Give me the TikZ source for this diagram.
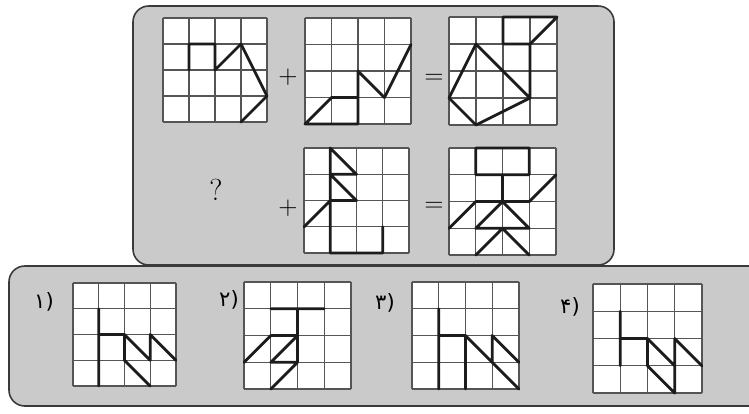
\documentclass[tikz,border=0pt]{standalone}
\usepackage{fontspec}
\newfontfamily\farsifont{DejaVu Sans}
\definecolor{panelfill}{HTML}{CACACA}
\definecolor{paneldraw}{HTML}{3A3A3A}
\definecolor{gridgray}{HTML}{555555}
\definecolor{inkline}{HTML}{1C1C1C}
\tikzset{
  panel/.style={rounded corners=9pt, draw=paneldraw, line width=0.9pt, fill=panelfill},
  gridline/.style={draw=gridgray, line width=0.75pt},
  inkpath/.style={draw=inkline, line width=1.6pt, line cap=round, line join=round},
  sign/.style={font=\Large, inner sep=0pt},
  optlabel/.style={font=\farsifont\large, inner sep=0pt}
}
% x, y of lower left corner (px), cell size (cm), thick lines
\newcommand{\puzzlegrid}[4]{%
  \begin{scope}[shift={(#1,#2)}, x=#3cm, y=#3cm]
    \fill[white] (0,0) rectangle (4,4);
    \foreach \k in {0,...,4} {
      \draw[gridline] (\k,0) -- (\k,4);
      \draw[gridline] (0,\k) -- (4,\k);
    }
    \draw[inkpath] #4;
  \end{scope}}

\begin{document}
\begin{tikzpicture}[x=0.02cm, y=-0.02cm]
\clip (0,0) rectangle (749,413);
\fill[white] (0,0) rectangle (749,413);

\draw[panel] (9,266) rectangle (790,406);
\draw[panel] (133,6) rectangle (614,265);

% first row: A + B = C
\puzzlegrid{163}{122}{0.52}{(1,2) -- (1,3) -- (2,3) -- (2,2) -- (3,3) -- (4,1) -- (3,0)}
\puzzlegrid{305}{124}{0.53}{(2,1) -- (1,1) -- (0,0) -- (2,0) -- (2,2) -- (3,1) -- (4,3)}
\puzzlegrid{449}{125}{0.54}{(2,3) -- (2,4) -- (4,4) -- (3,3) -- (2,3) (3,3) -- (3,1)
  (1,3) -- (0,1) -- (1,0) -- (3,1) -- cycle}

% second row: ? + D = E
\puzzlegrid{304}{253}{0.525}{(1,3) -- (2,3) -- (1,4) -- (1,0) -- (3,0) -- (3,1)
  (1,3) -- (2,2) -- (1,2) -- (0,1)}
\puzzlegrid{449}{255}{0.535}{(1,3) rectangle (3,4) (2,3) -- (2,2) (1,2) -- (3,2) -- (4,3)
  (0,1) -- (1,2) (1,1) -- (2,2) -- (3,1) (1,1) -- (3,1) (1,0) -- (2,1) -- (3,0)}

\node[sign] (plusA) at (288,77) {$+$};
\node[sign] (equalA) at (434,79) {$=$};
\node[sign, font=\LARGE] (qmark) at (216,190) {?};
\node[sign] (plusB) at (288,208) {$+$};
\node[sign] (equalB) at (434,207) {$=$};

% answer choices
\puzzlegrid{73}{386}{0.515}{(1,0) -- (1,3) (1,2) -- (2,2) -- (3,1) (2,2) -- (2,1) -- (3,0)
  (3,1) -- (3,2) -- (4,1)}
\puzzlegrid{244}{389}{0.535}{(1,3) -- (3,3) (2,3) -- (2,1) (1,2) -- (2,2) (0,1) -- (1,2)
  (1,1) -- (2,2) (1,1) -- (2,1) (1,0) -- (2,1)}
\puzzlegrid{412}{389}{0.535}{(1,0) -- (1,3) (1,2) -- (2,2) (2,0) -- (2,2) -- (4,0)
  (3,1) -- (3,2) -- (4,1)}
\puzzlegrid{593}{393}{0.545}{(1,1) -- (1,3) (1,2) -- (2,2) -- (3,1) (2,2) -- (2,1) -- (3,0)
  (3,0) -- (3,2) -- (4,1)}

\node[optlabel] (choice1) at (44,302) {۱)};
\node[optlabel] (choice2) at (229,300) {۲)};
\node[optlabel] (choice3) at (385,303) {۳)};
\node[optlabel] (choice4) at (570,307) {۴)};

\end{tikzpicture}
\end{document}
